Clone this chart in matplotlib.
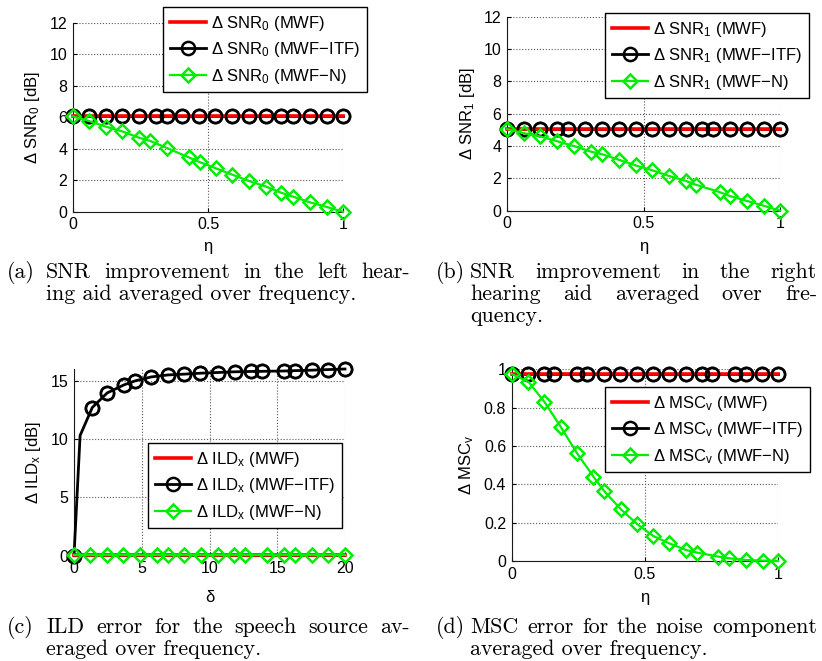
import matplotlib
matplotlib.use("Agg")
import matplotlib.pyplot as plt

plt.rcParams['font.family'] = ['Liberation Sans', 'DejaVu Sans']
plt.rcParams['mathtext.fontset'] = 'custom'
plt.rcParams['mathtext.rm'] = 'Liberation Sans'
plt.rcParams['mathtext.it'] = 'Liberation Sans:italic'
plt.rcParams['font.size'] = 11.5

W, H = 822, 661

# (a) SNR improvement left
eta_a_mwf = [0, 1]
snr0_mwf = [6.05, 6.05]
eta_a_itf = [0, .061, .122, .182, .246, .308, .347, .405, .465, .527, .590, .652, .713, .772, .816, .877, .940, 1.0]
snr0_itf = [6.05, 6.05, 6.05, 6.05, 6.05, 6.05, 6.05, 6.05, 6.05, 6.05, 6.05, 6.05, 6.05, 6.05, 6.05, 6.05, 6.05, 6.05]
eta_a_n = [0, .061, .122, .182, .244, .285, .347, .429, .469, .530, .590, .652, .714, .772, .816, .877, .940, 1.0]
snr0_n = [6.05, 5.75, 5.4, 5.1, 4.7, 4.5, 4.05, 3.45, 3.15, 2.75, 2.35, 1.95, 1.6, 1.2, 0.95, 0.6, 0.3, 0.0]

# (b) SNR improvement right
eta_b_mwf = [0, 1]
snr1_mwf = [5.05, 5.05]
eta_b_itf = [0, .061, .121, .183, .225, .286, .347, .410, .471, .532, .593, .654, .715, .755, .818, .880, .942, 1.0]
snr1_itf = [5.05, 5.05, 5.05, 5.05, 5.05, 5.05, 5.05, 5.05, 5.05, 5.05, 5.05, 5.05, 5.05, 5.05, 5.05, 5.05, 5.05, 5.05]
eta_b_n = [0, .061, .121, .183, .245, .308, .347, .410, .471, .532, .593, .654, .693, .779, .818, .880, .942, 1.0]
snr1_n = [5.05, 4.8, 4.6, 4.3, 4.0, 3.65, 3.5, 3.15, 2.8, 2.5, 2.15, 1.85, 1.6, 1.15, 0.9, 0.6, 0.3, 0.0]

# (c) ILD error
delta_mwf = [0, 20]
ild_mwf = [0.08, 0.08]
delta_itf = [0, 0.45, 1.35, 2.45, 3.67, 4.50, 5.70, 6.93, 8.14, 9.33, 10.62, 11.85, 13.05, 13.85, 15.51, 16.31, 17.57, 18.77, 20.0]
ild_itf = [0, 10.3, 12.7, 13.95, 14.63, 14.98, 15.32, 15.49, 15.56, 15.64, 15.7, 15.76, 15.79, 15.8, 15.83, 15.86, 15.9, 15.95, 16.0]
delta_n = [0, 1.18, 2.41, 3.64, 4.87, 6.10, 6.91, 8.14, 9.37, 10.6, 11.83, 12.65, 14.25, 15.51, 16.31, 17.57, 18.77, 20.0]
ild_n = [0.08, 0.08, 0.08, 0.08, 0.08, 0.08, 0.08, 0.08, 0.08, 0.08, 0.08, 0.08, 0.08, 0.08, 0.08, 0.08, 0.08, 0.08]

# (d) MSC error
eta_d_mwf = [0, 1]
msc_mwf = [0.975, 0.975]
eta_d_itf = [0, .063, .122, .160, .244, .284, .345, .407, .470, .531, .591, .654, .714, .753, .838, .879, .940, 1.0]
msc_itf = [0.975, 0.975, 0.975, 0.975, 0.975, 0.975, 0.975, 0.975, 0.975, 0.975, 0.975, 0.975, 0.975, 0.975, 0.975, 0.975, 0.975, 0.975]
eta_d_n = [0, .063, .123, .184, .244, .307, .347, .410, .469, .532, .592, .655, .695, .776, .817, .880, .942, 1.0]
msc_n = [0.975, 0.935, 0.83, 0.70, 0.565, 0.44, 0.365, 0.27, 0.195, 0.13, 0.092, 0.057, 0.044, 0.023, 0.014, 0.005, 0.002, 0.0]

fig = plt.figure(figsize=(W / 100, H / 100), dpi=100)


def px_axes(left, top, right, bottom):
    return fig.add_axes([left / W, 1 - bottom / H, (right - left) / W, (bottom - top) / H])


def style(ax, xlim, ylim, xticks, yticks, xtl, ytl):
    ax.set_xlim(xlim)
    ax.set_ylim(ylim)
    ax.set_xticks(xticks)
    ax.set_yticks(yticks)
    ax.set_xticklabels(xtl)
    ax.set_yticklabels(ytl)
    ax.spines['top'].set_visible(False)
    ax.spines['right'].set_visible(False)
    for s in ['left', 'bottom']:
        ax.spines[s].set_linewidth(0.8)
        ax.spines[s].set_color('0.1')
    ax.tick_params(direction='in', length=3, width=0.8, labelsize=11.5, pad=4)
    ax.grid(True, linestyle=':', color='0.35', linewidth=0.8)
    ax.set_axisbelow(True)


def draw(ax, x_m, y_m, x_i, y_i, x_n, y_n, name, leg_xy, mark_i=None):
    li, = ax.plot(x_i, y_i, color='k', lw=2, marker='o', ms=9.5, mfc='none',
                  mec='k', mew=1.8, markevery=mark_i, zorder=3, clip_on=False)
    lm, = ax.plot(x_m, y_m, color='#ff0000', lw=2.6, zorder=4, clip_on=False)
    # circles again on top of the red line
    ax.plot(x_i, y_i, ls='none', marker='o', ms=9.5, mfc='none',
            mec='k', mew=1.8, markevery=mark_i, zorder=4.5, clip_on=False)
    ln, = ax.plot(x_n, y_n, color='#00ee00', lw=1.6, marker='D', ms=7.6, mfc='none',
                  mec='#00ee00', mew=1.8, zorder=5, clip_on=False)
    leg = ax.legend([lm, li, ln],
                    [name + ' (MWF)', name + ' (MWF\u2212ITF)', name + ' (MWF\u2212N)'],
                    loc='upper left', bbox_to_anchor=(leg_xy[0] / W, 1 - leg_xy[1] / H),
                    bbox_transform=fig.transFigure, borderaxespad=0, fancybox=False,
                    framealpha=1, edgecolor='k', fontsize=12, handlelength=2.2,
                    handletextpad=0.3, labelspacing=0.45, borderpad=0.4, numpoints=1)
    leg.get_frame().set_linewidth(1.0)
    leg.set_zorder(10)


ax_a = px_axes(73, 22.7, 343, 211.7)
style(ax_a, (0, 1), (0, 12), [0, 0.5, 1], [0, 2, 4, 6, 8, 10, 12],
      ['0', '0.5', '1'], ['0', '2', '4', '6', '8', '10', '12'])
draw(ax_a, eta_a_mwf, snr0_mwf, eta_a_itf, snr0_itf, eta_a_n, snr0_n,
     '\u0394 SNR$_0$', (163, 7))
ax_a.set_ylabel('\u0394 SNR$_0$ [dB]', fontsize=12)
ax_a.yaxis.set_label_coords(-0.115, 0.5)
ax_a.set_xlabel('\u03b7', fontsize=12)
ax_a.xaxis.set_label_coords(0.5, -0.145)

ax_b = px_axes(507, 16.7, 780, 210.7)
style(ax_b, (0, 1), (0, 12), [0, 0.5, 1], [0, 2, 4, 6, 8, 10, 12],
      ['0', '0.5', '1'], ['0', '2', '4', '6', '8', '10', '12'])
draw(ax_b, eta_b_mwf, snr1_mwf, eta_b_itf, snr1_itf, eta_b_n, snr1_n,
     '\u0394 SNR$_1$', (605, 13))
ax_b.set_ylabel('\u0394 SNR$_1$ [dB]', fontsize=12)
ax_b.yaxis.set_label_coords(-0.11, 0.5)
ax_b.set_xlabel('\u03b7', fontsize=12)
ax_b.xaxis.set_label_coords(0.5, -0.145)

ax_c = px_axes(74, 369, 345, 555.7)
style(ax_c, (0, 20), (0, 16), [0, 5, 10, 15, 20], [0, 5, 10, 15],
      ['0', '5', '10', '15', '20'], ['0', '5', '10', '15'])
draw(ax_c, delta_mwf, ild_mwf, delta_itf, ild_itf, delta_n, ild_n,
     '\u0394 ILD$_\\mathrm{x}$', (148, 443),
     mark_i=[0] + list(range(2, len(delta_itf))))
ax_c.set_ylabel('\u0394 ILD$_\\mathrm{x}$ [dB]', fontsize=12)
ax_c.yaxis.set_label_coords(-0.114, 0.5)
ax_c.set_xlabel('\u03b4', fontsize=12)
ax_c.xaxis.set_label_coords(0.5, -0.185)

ax_d = px_axes(511.7, 369.3, 778, 561)
style(ax_d, (0, 1), (0, 1), [0, 0.5, 1], [0, 0.2, 0.4, 0.6, 0.8, 1],
      ['0', '0.5', '1'], ['0', '0.2', '0.4', '0.6', '0.8', '1'])
draw(ax_d, eta_d_mwf, msc_mwf, eta_d_itf, msc_itf, eta_d_n, msc_n,
     '\u0394 MSC$_\\mathrm{v}$', (605, 387))
ax_d.set_ylabel('\u0394 MSC$_\\mathrm{v}$', fontsize=12)
ax_d.yaxis.set_label_coords(-0.134, 0.5)
ax_d.set_xlabel('\u03b7', fontsize=12)
ax_d.xaxis.set_label_coords(0.5, -0.15)

# captions, LaTeX-like justified text
cap_fs = 15.8
renderer = fig.canvas.get_renderer()


def cap_line(text, x0, y, x1=None):
    if x1 is None:
        fig.text(x0 / W, 1 - y / H, text, family='cmr10', fontsize=cap_fs, va='baseline')
        return
    words = text.split()
    ts = [fig.text(x0 / W, 1 - y / H, w, family='cmr10', fontsize=cap_fs, va='baseline')
          for w in words]
    widths = [t.get_window_extent(renderer).width for t in ts]
    gap = (x1 - x0 - sum(widths)) / (len(words) - 1)
    x = x0
    for t, w in zip(ts, widths):
        t.set_x(x / W)
        x += w + gap


cap_line('(a)', 7, 278)
cap_line('SNR improvement in the left hear-', 46, 278, 410)
cap_line('ing aid averaged over frequency.', 46, 300)

cap_line('(b)', 436, 278)
cap_line('SNR improvement in the right', 470, 278, 817)
cap_line('hearing aid averaged over fre-', 470, 300, 817)
cap_line('quency.', 470, 322)

cap_line('(c)', 7, 633)
cap_line('ILD error for the speech source av-', 46, 633, 410)
cap_line('eraged over frequency.', 46, 655)

cap_line('(d)', 436, 633)
cap_line('MSC error for the noise component', 470, 633, 817)
cap_line('averaged over frequency.', 470, 655)

fig.savefig('out.png', dpi=100)
